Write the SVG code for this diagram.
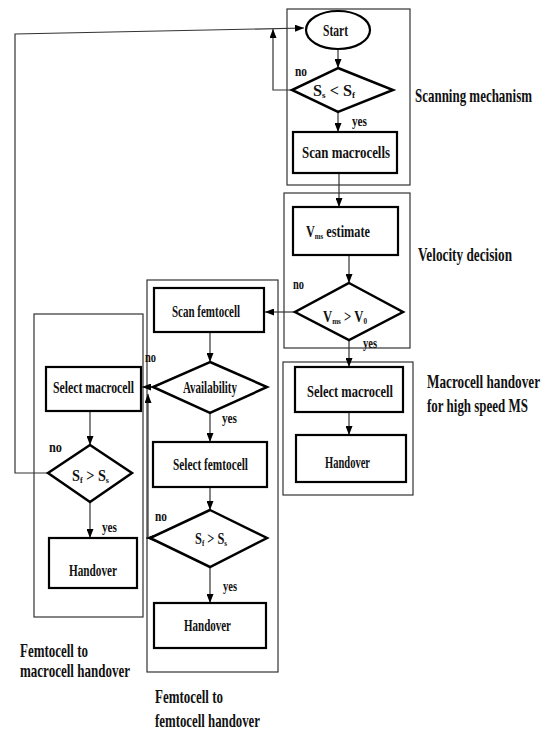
<svg xmlns="http://www.w3.org/2000/svg" width="544" height="733" viewBox="0 0 544 733">
<style>
.outer{fill:none;stroke:#333;stroke-width:1.2}
.box{fill:#fff;stroke:#000;stroke-width:2.2}
.dia{fill:#fff;stroke:#000;stroke-width:2.5}
.con{fill:none;stroke:#333;stroke-width:1.2}
.arr{marker-end:url(#ah)}
text{font-family:"Liberation Serif","Times New Roman",serif;font-weight:bold;fill:#111}
.n{font-size:16px}
.l{font-size:19px}
.s{font-size:14px}
.sub{font-size:9px}
</style>
<defs>
<marker id="ah" markerWidth="9" markerHeight="7" refX="9" refY="3.5" orient="auto" markerUnits="userSpaceOnUse">
<path d="M0,0 L9,3.5 L0,7 z" fill="#000"/>
</marker>
</defs>

<g id="regions">
<rect class="outer" x="287" y="9" width="123" height="176"/>
<rect class="outer" x="284" y="193" width="126" height="155"/>
<rect class="outer" x="283" y="362" width="130" height="133"/>
<rect class="outer" x="147" y="280" width="131" height="392"/>
<rect class="outer" x="34" y="314" width="109" height="303"/>
</g>

<g id="connectors">
<path class="con arr" d="M48,473 L15,473 L15,34 L304,28"/>
<path class="con arr" d="M292,90 L273,90 L273,29"/>
<path class="con arr" d="M338,49 L338,68"/>
<path class="con arr" d="M338,112 L338,132"/>
<path class="con arr" d="M339,173 L339,207"/>
<path class="con arr" d="M349,255 L349,283"/>
<path class="con arr" d="M295,312 L265,312"/>
<path class="con arr" d="M349,340 L349,367"/>
<path class="con arr" d="M349,412 L349,435"/>
<path class="con arr" d="M210,332 L210,362"/>
<path class="con arr" d="M153,387 L142,387"/>
<path class="con arr" d="M210,413 L210,442"/>
<path class="con arr" d="M210,487 L210,510"/>
<path class="con arr" d="M150,538 L146,538"/>
<path class="con arr" d="M148,538 L148,394"/>
<path class="con arr" d="M90,411 L90,445"/>
<path class="con arr" d="M90,502 L90,538"/>
<path class="con arr" d="M210,567 L210,603"/>
</g>

<g id="start"><ellipse class="box" cx="338" cy="30" rx="32" ry="19"/><text class="n" x="323" y="36" textLength="25" lengthAdjust="spacingAndGlyphs">Start</text></g>
<g id="d-ss-sf"><polygon class="dia" points="338,68 393,90 338,112 292,90"/><text class="n" x="313" y="96" textLength="42" lengthAdjust="spacingAndGlyphs">S<tspan class="sub" dy="2">s</tspan><tspan dy="-2"> &lt; S</tspan><tspan class="sub" dy="2">f</tspan></text></g>
<g id="scan-macro"><rect class="box" x="293" y="132" width="104" height="41"/><text class="n" x="302" y="158" textLength="88" lengthAdjust="spacingAndGlyphs">Scan  macrocells</text></g>
<g id="vms-est"><rect class="box" x="293" y="207" width="105" height="48"/><text class="n" x="306" y="237" textLength="64" lengthAdjust="spacingAndGlyphs">V<tspan class="sub" dy="2">ms</tspan><tspan dy="-2">  estimate</tspan></text></g>
<g id="d-vms"><polygon class="dia" points="349,283 403,312 349,340 295,312"/><text class="n" x="323" y="322" textLength="44" lengthAdjust="spacingAndGlyphs">V<tspan class="sub" dy="2">ms</tspan><tspan dy="-2"> &gt; V</tspan><tspan class="sub" dy="2">0</tspan></text></g>
<g id="sel-macro-r"><rect class="box" x="295" y="367" width="108" height="45"/><text class="n" x="307" y="397" textLength="86" lengthAdjust="spacingAndGlyphs">Select macrocell</text></g>
<g id="handover-r"><rect class="box" x="296" y="435" width="110" height="47"/><text class="n" x="325" y="468" textLength="45" lengthAdjust="spacingAndGlyphs">Handover</text></g>
<g id="scan-femto"><rect class="box" x="154" y="288" width="110" height="44"/><text class="n" x="172" y="317" textLength="68" lengthAdjust="spacingAndGlyphs">Scan femtocell</text></g>
<g id="d-avail"><polygon class="dia" points="210,362 267,387 210,413 153,387"/><text class="n" x="183" y="393" textLength="54" lengthAdjust="spacingAndGlyphs">Availability</text></g>
<g id="sel-femto"><rect class="box" x="153" y="442" width="114" height="45"/><text class="n" x="173" y="470" textLength="75" lengthAdjust="spacingAndGlyphs">Select femtocell</text></g>
<g id="d-sf-ss-m"><polygon class="dia" points="210,510 267,538 210,567 150,538"/><text class="n" x="195" y="544" textLength="32" lengthAdjust="spacingAndGlyphs">S<tspan class="sub" dy="2">f</tspan><tspan dy="-2"> &gt; S</tspan><tspan class="sub" dy="2">s</tspan></text></g>
<g id="handover-m"><rect class="box" x="154" y="603" width="112" height="45"/><text class="n" x="184" y="631" textLength="47" lengthAdjust="spacingAndGlyphs">Handover</text></g>
<g id="sel-macro-l"><rect class="box" x="46" y="367" width="95" height="44"/><text class="n" x="53" y="393" textLength="81" lengthAdjust="spacingAndGlyphs">Select macrocell</text></g>
<g id="d-sf-ss-l"><polygon class="dia" points="90,445 132,473 90,502 48,473"/><text class="n" x="72" y="481" textLength="37" lengthAdjust="spacingAndGlyphs">S<tspan class="sub" dy="2">f</tspan><tspan dy="-2"> &gt; S</tspan><tspan class="sub" dy="2">s</tspan></text></g>
<g id="handover-l"><rect class="box" x="49" y="538" width="88" height="50"/><text class="n" x="69" y="576" textLength="48" lengthAdjust="spacingAndGlyphs">Handover</text></g>

<g id="branch-labels">
<text class="s" x="295" y="76" textLength="12" lengthAdjust="spacingAndGlyphs">no</text>
<text class="s" x="352" y="126" textLength="15" lengthAdjust="spacingAndGlyphs">yes</text>
<text class="s" x="293" y="289" textLength="11" lengthAdjust="spacingAndGlyphs">no</text>
<text class="s" x="363" y="348" textLength="14" lengthAdjust="spacingAndGlyphs">yes</text>
<text class="s" x="145" y="362" textLength="11" lengthAdjust="spacingAndGlyphs">no</text>
<text class="s" x="222" y="423" textLength="15" lengthAdjust="spacingAndGlyphs">yes</text>
<text class="s" x="155" y="521" textLength="12" lengthAdjust="spacingAndGlyphs">no</text>
<text class="s" x="223" y="591" textLength="14" lengthAdjust="spacingAndGlyphs">yes</text>
<text class="s" x="49" y="452" textLength="13" lengthAdjust="spacingAndGlyphs">no</text>
<text class="s" x="102" y="532" textLength="15" lengthAdjust="spacingAndGlyphs">yes</text>
</g>

<g id="section-labels">
<text class="l" x="415" y="102" textLength="117" lengthAdjust="spacingAndGlyphs">Scanning mechanism</text>
<text class="l" x="418" y="261" textLength="94" lengthAdjust="spacingAndGlyphs">Velocity decision</text>
<text class="l" x="427" y="388" textLength="113" lengthAdjust="spacingAndGlyphs">Macrocell handover</text>
<text class="l" x="427" y="412" textLength="101" lengthAdjust="spacingAndGlyphs">for high speed MS</text>
<text class="l" x="20" y="657" textLength="68" lengthAdjust="spacingAndGlyphs">Femtocell to</text>
<text class="l" x="20" y="677" textLength="110" lengthAdjust="spacingAndGlyphs">macrocell handover</text>
<text class="l" x="155" y="703" textLength="68" lengthAdjust="spacingAndGlyphs">Femtocell to</text>
<text class="l" x="155" y="727" textLength="105" lengthAdjust="spacingAndGlyphs">femtocell handover</text>
</g>
</svg>
